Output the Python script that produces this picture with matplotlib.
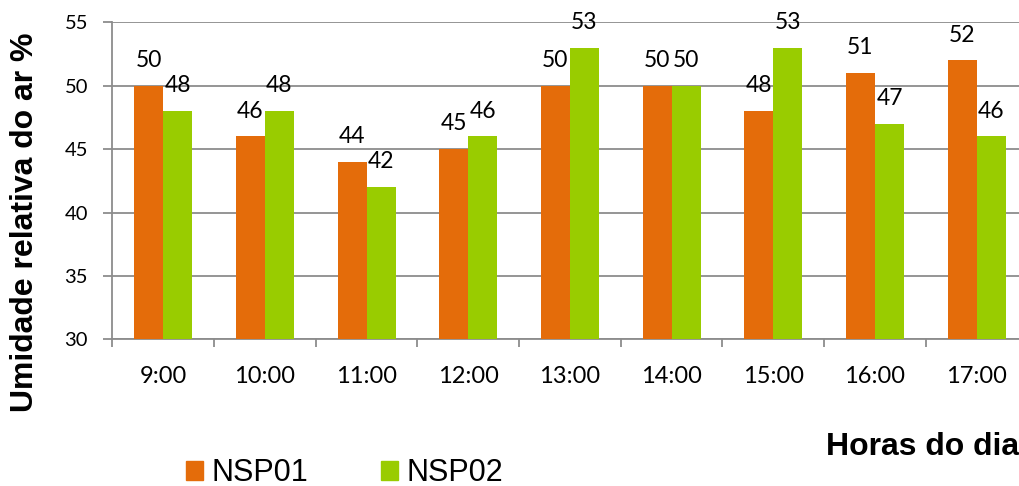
import numpy as np
import matplotlib.pyplot as plt
from matplotlib.patches import Patch

horas = ["9:00", "10:00", "11:00", "12:00", "13:00", "14:00", "15:00", "16:00", "17:00"]
nsp01 = [50, 46, 44, 45, 50, 50, 48, 51, 52]
nsp02 = [48, 48, 42, 46, 53, 50, 53, 47, 46]

cor_nsp01 = "#E46C0A"
cor_nsp02 = "#99CC00"
cinza = "#8C8C8C"

fig = plt.figure(figsize=(10.19, 4.86), dpi=100)
# axes deliberately run a little past the right edge of the figure
ax = fig.add_axes([0.1102, 0.3019, 0.8982, 0.6521])

x = np.arange(len(horas))
w = 0.285
b1 = ax.bar(x - w / 2, np.array(nsp01) - 30, w, bottom=30, color=cor_nsp01, zorder=3)
b2 = ax.bar(x + w / 2, np.array(nsp02) - 30, w, bottom=30, color=cor_nsp02, zorder=3)

for xs, vals in ((x - w / 2, nsp01), (x + w / 2, nsp02)):
    for xi, v in zip(xs, vals):
        ax.annotate(str(v), (xi, v), xytext=(0, 13.5), textcoords="offset points",
                    ha="center", va="baseline", fontsize=16.5, family="Lato",
                    color="black", zorder=4)

ax.set_xlim(-0.5, len(horas) - 0.5)
ax.set_ylim(30, 55)
ax.set_yticks(np.arange(30, 56, 5))
ax.set_xticks(x, horas)
ax.set_xticks(np.arange(len(horas) + 1) - 0.5, minor=True)

ax.tick_params(axis="x", which="major", length=0, pad=19, labelsize=17)
ax.tick_params(axis="x", which="minor", length=6, width=1.3, color=cinza, direction="out")
ax.tick_params(axis="y", length=6.5, width=1.3, color=cinza, pad=11, labelsize=14.5)
for lab in ax.get_xticklabels() + ax.get_yticklabels():
    lab.set_family("Lato")

ax.grid(axis="y", color=cinza, linewidth=1.3, zorder=0)
ax.set_axisbelow(True)
for side in ("top", "right"):
    ax.spines[side].set_visible(False)
for side in ("left", "bottom"):
    ax.spines[side].set_color(cinza)
    ax.spines[side].set_linewidth(1.3)

fig.text(25 / 1019, 1 - 222 / 486, "Umidade relativa do ar %", rotation=90,
         ha="center", va="center", fontsize=23, fontweight="bold", family="Liberation Sans")
fig.text(1.0, 1 - 455 / 486, "Horas do dia", ha="right", va="baseline",
         fontsize=23, fontweight="bold", family="Liberation Sans")

handles = [Patch(color=cor_nsp01), Patch(color=cor_nsp02)]
fig.legend(handles, ["NSP01", "NSP02"], ncol=2, loc="center left",
           bbox_to_anchor=(186 / 1019, 1 - 473 / 486), frameon=False,
           borderpad=0, borderaxespad=0, handlelength=0.56, handleheight=0.6,
           handletextpad=0.26, columnspacing=2.4,
           prop={"family": "Liberation Sans", "size": 22})

fig.savefig("out.png", dpi=100)
